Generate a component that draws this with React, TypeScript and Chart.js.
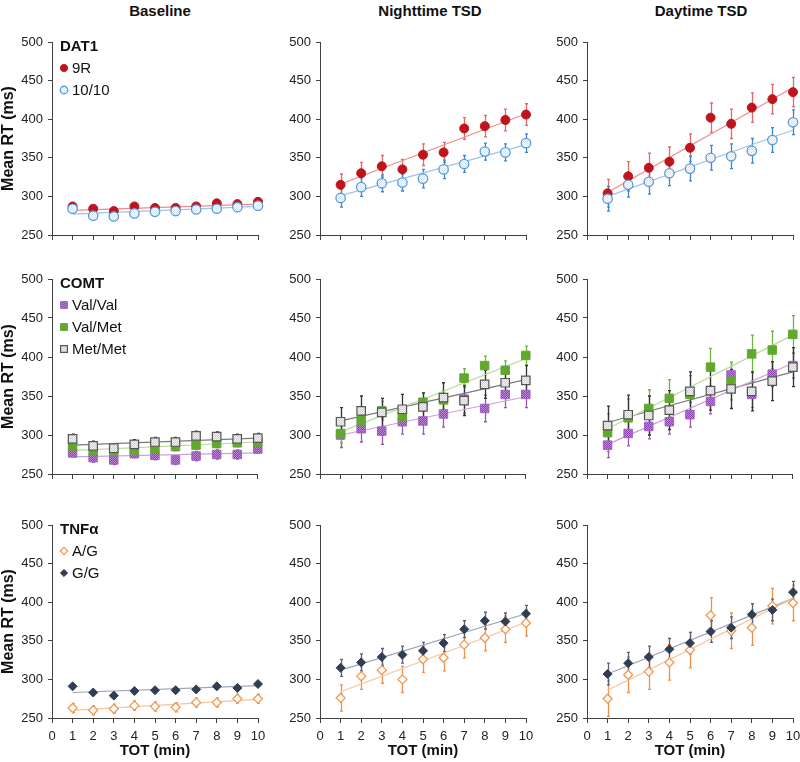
import React, { useEffect, useRef } from 'react';
import { Chart, registerables } from 'chart.js';
import { drawPoint } from 'chart.js/helpers';

Chart.register(...registerables);

// ---------------- data ----------------
const TOT = [1, 2, 3, 4, 5, 6, 7, 8, 9, 10];
const TREND_X = [1, 10];
const CONDITIONS = ['Baseline', 'Nighttime TSD', 'Daytime TSD'];
const Y_TITLE = 'Mean RT (ms)';
const X_TITLE = 'TOT (min)';
const Y_MIN = 250;
const Y_MAX = 500;
const Y_STEP = 50;
const X_MIN = 0;
const X_MAX = 10;
const X_STEP = 1;

const DAT1_LABELS = ['9R', '10/10'];
const COMT_LABELS = ['Val/Val', 'Val/Met', 'Met/Met'];
const TNF_LABELS = ['A/G', 'G/G'];
const GENES = ['DAT1', 'COMT', 'TNFα'];

// DAT1
const dat1_9R_base = [287, 284, 281, 287, 285, 285, 287, 291, 290, 293];
const dat1_9R_base_err = [3, 3, 3, 3, 3, 3, 3, 3, 3, 3];
const dat1_9R_base_trend = [282, 290];
const dat1_1010_base = [284, 275, 274, 278, 280, 281, 283, 284, 286, 288];
const dat1_1010_base_err = [3, 3, 3, 3, 3, 3, 3, 3, 3, 3];
const dat1_1010_base_trend = [277, 287];

const dat1_9R_night = [315, 330, 339, 335, 354, 357, 388, 391, 399, 406];
const dat1_9R_night_err = [14, 14, 14, 13, 14, 13, 14, 14, 14, 14];
const dat1_9R_night_trend = [316, 407];
const dat1_1010_night = [298, 312, 317, 318, 323, 335, 342, 358, 357, 369];
const dat1_1010_night_err = [12, 12, 11, 11, 12, 12, 11, 11, 11, 12];
const dat1_1010_night_trend = [301, 367];

const dat1_9R_day = [304, 326, 337, 345, 363, 402, 394, 415, 426, 435];
const dat1_9R_day_err = [18, 19, 19, 19, 18, 19, 19, 19, 19, 19];
const dat1_9R_day_trend = [305, 441];
const dat1_1010_day = [297, 315, 319, 330, 336, 350, 352, 359, 373, 396];
const dat1_1010_day_err = [16, 16, 16, 16, 16, 16, 16, 16, 16, 16];
const dat1_1010_day_trend = [300, 386];

// COMT
const comt_VV_base = [277, 271, 268, 276, 274, 268, 273, 275, 275, 282];
const comt_VV_base_err = [5, 6, 6, 5, 6, 6, 6, 6, 6, 5];
const comt_VV_base_trend = [272, 277];
const comt_VM_base = [286, 280, 279, 281, 283, 285, 287, 289, 290, 291];
const comt_VM_base_err = [5, 5, 5, 5, 5, 5, 5, 5, 5, 5];
const comt_VM_base_trend = [280, 291];
const comt_MM_base = [295, 286, 283, 288, 291, 291, 299, 298, 295, 296];
const comt_MM_base_err = [6, 6, 6, 6, 6, 6, 6, 6, 6, 6];
const comt_MM_base_trend = [287, 296];

const comt_VV_night = [300, 308, 305, 317, 318, 327, 346, 334, 352, 352];
const comt_VV_night_err = [16, 17, 17, 16, 17, 17, 18, 17, 17, 17];
const comt_VV_night_trend = [300, 349];
const comt_VM_night = [302, 319, 331, 324, 342, 345, 373, 389, 383, 402];
const comt_VM_night_err = [12, 12, 12, 12, 12, 12, 12, 12, 12, 12];
const comt_VM_night_trend = [304, 398];
const comt_MM_night = [317, 331, 329, 333, 336, 348, 344, 365, 367, 370];
const comt_MM_night_err = [18, 19, 18, 19, 18, 19, 19, 18, 18, 19];
const comt_MM_night_trend = [318, 371];

const comt_VV_day = [287, 302, 311, 317, 326, 343, 377, 352, 378, 389];
const comt_VV_day_err = [16, 16, 16, 16, 16, 16, 16, 17, 16, 16];
const comt_VV_day_trend = [288, 392];
const comt_VM_day = [303, 322, 334, 347, 352, 387, 369, 404, 409, 429];
const comt_VM_day_err = [24, 24, 24, 24, 24, 24, 24, 24, 24, 24];
const comt_VM_day_trend = [308, 428];
const comt_MM_day = [312, 326, 325, 332, 356, 357, 359, 356, 369, 387];
const comt_MM_day_err = [25, 25, 25, 25, 25, 25, 25, 25, 25, 25];
const comt_MM_day_trend = [316, 381];

// TNFα
const tnf_AG_base = [263, 260, 262, 266, 265, 264, 270, 270, 275, 275];
const tnf_AG_base_err = [6, 6, 6, 6, 6, 6, 6, 6, 6, 6];
const tnf_AG_base_trend = [260, 274];
const tnf_GG_base = [291, 283, 279, 285, 286, 286, 287, 291, 289, 294];
const tnf_GG_base_err = [3, 3, 3, 3, 3, 3, 3, 3, 3, 3];
const tnf_GG_base_trend = [283, 292];

const tnf_AG_night = [276, 304, 312, 300, 326, 328, 345, 354, 365, 373];
const tnf_AG_night_err = [17, 17, 17, 17, 17, 17, 17, 17, 17, 17];
const tnf_AG_night_trend = [284, 374];
const tnf_GG_night = [315, 322, 329, 332, 337, 347, 365, 376, 375, 385];
const tnf_GG_night_err = [11, 11, 11, 11, 11, 11, 11, 11, 11, 11];
const tnf_GG_night_trend = [312, 385];

const tnf_AG_day = [275, 306, 310, 322, 338, 383, 363, 367, 395, 399];
const tnf_AG_day_err = [23, 23, 23, 23, 23, 23, 23, 23, 23, 23];
const tnf_AG_day_trend = [286, 405];
const tnf_GG_day = [307, 321, 329, 339, 347, 362, 367, 384, 390, 413];
const tnf_GG_day_err = [14, 14, 14, 14, 14, 14, 14, 14, 14, 14];
const tnf_GG_day_trend = [307, 405];

// ---------------- styles ----------------
type Sty = {
  point: string;
  radius: number;
  fill: string;
  fill2?: string;
  border: string;
  bw: number;
  trend: string;
  err: string;
};

const S_9R: Sty = { point: 'circle', radius: 4.5, fill: '#c0141c', border: '#c0141c', bw: 1, trend: '#f08a8a', err: '#e06a6a' };
const S_1010: Sty = { point: 'circle', radius: 4.7, fill: '#d2e3f5', fill2: '#ffffff', border: '#5b9bd5', bw: 1.3, trend: '#9cc4ea', err: '#3d85cf' };
const S_VV: Sty = { point: 'rect', radius: 6, fill: '#8a3fae', fill2: '#c08ad8', border: '#a060c0', bw: 1, trend: '#c9a2dc', err: '#9b59b6' };
const S_VM: Sty = { point: 'rect', radius: 6, fill: '#62a82f', border: '#62a82f', bw: 1, trend: '#b7dc96', err: '#6fb73e' };
const S_MM: Sty = { point: 'rect', radius: 6, fill: '#cfcfcf', fill2: '#f4f4f4', border: '#555555', bw: 1.2, trend: '#7a7a7a', err: '#333333' };
const S_AG: Sty = { point: 'rectRot', radius: 4.5, fill: '#ffffff', border: '#f39a52', bw: 1.3, trend: '#f7c49a', err: '#f0904a' };
const S_GG: Sty = { point: 'rectRot', radius: 4.5, fill: '#323d52', border: '#323d52', bw: 1, trend: '#9aa4b6', err: '#59627a' };

type Series = { label: string; values: number[]; errors: number[]; trend: number[]; sty: Sty };
type Panel = { row: number; col: number; gene?: string; series: Series[] };

const PANELS: Panel[] = [
  { row: 0, col: 0, gene: GENES[0], series: [
    { label: DAT1_LABELS[0], values: dat1_9R_base, errors: dat1_9R_base_err, trend: dat1_9R_base_trend, sty: S_9R },
    { label: DAT1_LABELS[1], values: dat1_1010_base, errors: dat1_1010_base_err, trend: dat1_1010_base_trend, sty: S_1010 },
  ] },
  { row: 0, col: 1, series: [
    { label: DAT1_LABELS[0], values: dat1_9R_night, errors: dat1_9R_night_err, trend: dat1_9R_night_trend, sty: S_9R },
    { label: DAT1_LABELS[1], values: dat1_1010_night, errors: dat1_1010_night_err, trend: dat1_1010_night_trend, sty: S_1010 },
  ] },
  { row: 0, col: 2, series: [
    { label: DAT1_LABELS[0], values: dat1_9R_day, errors: dat1_9R_day_err, trend: dat1_9R_day_trend, sty: S_9R },
    { label: DAT1_LABELS[1], values: dat1_1010_day, errors: dat1_1010_day_err, trend: dat1_1010_day_trend, sty: S_1010 },
  ] },
  { row: 1, col: 0, gene: GENES[1], series: [
    { label: COMT_LABELS[0], values: comt_VV_base, errors: comt_VV_base_err, trend: comt_VV_base_trend, sty: S_VV },
    { label: COMT_LABELS[1], values: comt_VM_base, errors: comt_VM_base_err, trend: comt_VM_base_trend, sty: S_VM },
    { label: COMT_LABELS[2], values: comt_MM_base, errors: comt_MM_base_err, trend: comt_MM_base_trend, sty: S_MM },
  ] },
  { row: 1, col: 1, series: [
    { label: COMT_LABELS[0], values: comt_VV_night, errors: comt_VV_night_err, trend: comt_VV_night_trend, sty: S_VV },
    { label: COMT_LABELS[1], values: comt_VM_night, errors: comt_VM_night_err, trend: comt_VM_night_trend, sty: S_VM },
    { label: COMT_LABELS[2], values: comt_MM_night, errors: comt_MM_night_err, trend: comt_MM_night_trend, sty: S_MM },
  ] },
  { row: 1, col: 2, series: [
    { label: COMT_LABELS[0], values: comt_VV_day, errors: comt_VV_day_err, trend: comt_VV_day_trend, sty: S_VV },
    { label: COMT_LABELS[1], values: comt_VM_day, errors: comt_VM_day_err, trend: comt_VM_day_trend, sty: S_VM },
    { label: COMT_LABELS[2], values: comt_MM_day, errors: comt_MM_day_err, trend: comt_MM_day_trend, sty: S_MM },
  ] },
  { row: 2, col: 0, gene: GENES[2], series: [
    { label: TNF_LABELS[0], values: tnf_AG_base, errors: tnf_AG_base_err, trend: tnf_AG_base_trend, sty: S_AG },
    { label: TNF_LABELS[1], values: tnf_GG_base, errors: tnf_GG_base_err, trend: tnf_GG_base_trend, sty: S_GG },
  ] },
  { row: 2, col: 1, series: [
    { label: TNF_LABELS[0], values: tnf_AG_night, errors: tnf_AG_night_err, trend: tnf_AG_night_trend, sty: S_AG },
    { label: TNF_LABELS[1], values: tnf_GG_night, errors: tnf_GG_night_err, trend: tnf_GG_night_trend, sty: S_GG },
  ] },
  { row: 2, col: 2, series: [
    { label: TNF_LABELS[0], values: tnf_AG_day, errors: tnf_AG_day_err, trend: tnf_AG_day_trend, sty: S_AG },
    { label: TNF_LABELS[1], values: tnf_GG_day, errors: tnf_GG_day_err, trend: tnf_GG_day_trend, sty: S_GG },
  ] },
];

// ---------------- layout ----------------
const PAGE_W = 800;
const PAGE_H = 762;
const COL_LEFT = [52, 320, 587];
const COL_RIGHT = [258, 526, 793];
const ROW_TOP = [42, 279, 525];
const ROW_BOTTOM = [235, 474, 718];
const Y_AXIS_W = 52;
const PAD_TOP = 12;
const PAD_RIGHT = 7;
const TITLE_CX = [160, 430, 701];
const FONT = '"Liberation Sans", Arial, Helvetica, sans-serif';

Chart.defaults.font.family = FONT;

function makeFill(sty: Sty): any {
  if (!sty.fill2) return sty.fill;
  const cv = document.createElement('canvas');
  cv.width = 2;
  cv.height = 2;
  const g = cv.getContext('2d')!;
  g.fillStyle = sty.fill2;
  g.fillRect(0, 0, 2, 2);
  g.fillStyle = sty.fill;
  g.fillRect(0, 0, 1, 1);
  g.fillRect(1, 1, 1, 1);
  return g.createPattern(cv, 'repeat');
}

const errorBarPlugin = {
  id: 'errorBars',
  beforeDatasetsDraw(chart: any) {
    const { ctx, scales } = chart;
    const xs = scales.x;
    const ys = scales.y;
    chart.data.datasets.forEach((ds: any) => {
      if (!ds.errorBars) return;
      ctx.save();
      ctx.strokeStyle = ds.errorColor;
      ctx.lineWidth = 1.3;
      ds.data.forEach((p: any, j: number) => {
        const e = ds.errorBars[j];
        const x = Math.round(xs.getPixelForValue(p.x)) + 0.5;
        const y1 = ys.getPixelForValue(p.y - e);
        const y2 = ys.getPixelForValue(p.y + e);
        ctx.beginPath();
        ctx.moveTo(x, y1);
        ctx.lineTo(x, y2);
        ctx.moveTo(x - 1.5, y1);
        ctx.lineTo(x + 1.5, y1);
        ctx.moveTo(x - 1.5, y2);
        ctx.lineTo(x + 1.5, y2);
        ctx.stroke();
      });
      ctx.restore();
    });
  },
};

const inPlotLegendPlugin = {
  id: 'inPlotLegend',
  afterDraw(chart: any, _args: any, opts: any) {
    if (!opts || !opts.title) return;
    const { ctx, chartArea } = chart;
    ctx.save();
    ctx.textBaseline = 'middle';
    ctx.textAlign = 'left';
    ctx.fillStyle = '#111';
    ctx.font = `bold 15px ${FONT}`;
    ctx.fillText(opts.title, chartArea.left + 8, chartArea.top + 5);
    opts.items.forEach((it: any, k: number) => {
      const y = chartArea.top + 26 + k * 22;
      ctx.fillStyle = it.fill;
      ctx.strokeStyle = it.border;
      ctx.lineWidth = it.bw;
      drawPoint(ctx, { pointStyle: it.point, radius: it.radius * 0.8, borderWidth: it.bw, rotation: 0 } as any, chartArea.left + 12, y);
      ctx.fillStyle = '#111';
      ctx.font = `15px ${FONT}`;
      ctx.fillText(it.label, chartArea.left + 20, y + 1);
    });
    ctx.restore();
  },
};

function zeroPadding(s: any) {
  s.paddingLeft = 0;
  s.paddingRight = 0;
  s.paddingTop = 0;
  s.paddingBottom = 0;
}

function buildConfig(panel: Panel): any {
  const { row, col } = panel;
  const xAxisH = row === 2 ? PAGE_H - ROW_BOTTOM[row] : 8;
  const fills = panel.series.map((s) => makeFill(s.sty));
  const datasets: any[] = [];
  panel.series.forEach((s) => {
    datasets.push({
      label: s.label + ' trend',
      data: TREND_X.map((x, k) => ({ x, y: s.trend[k] })),
      showLine: true,
      borderColor: s.sty.trend,
      borderWidth: 1.2,
      pointRadius: 0,
      order: 50,
      clip: false,
    });
  });
  panel.series.forEach((s, k) => {
    datasets.push({
      label: s.label,
      data: TOT.map((x, j) => ({ x, y: s.values[j] })),
      errorBars: s.errors,
      errorColor: s.sty.err,
      showLine: false,
      pointStyle: s.sty.point,
      pointRadius: s.sty.radius,
      pointBackgroundColor: fills[k],
      pointBorderColor: s.sty.border,
      pointBorderWidth: s.sty.bw,
      order: 10 - k,
      clip: false,
    });
  });
  return {
    type: 'scatter',
    data: { datasets },
    options: {
      responsive: false,
      animation: false,
      devicePixelRatio: 1,
      layout: { padding: { top: PAD_TOP, right: PAD_RIGHT, left: 0, bottom: 0 } },
      plugins: {
        legend: { display: false },
        tooltip: { enabled: false },
        inPlotLegend: panel.gene
          ? {
              title: panel.gene,
              items: panel.series.map((s, k) => ({
                label: s.label,
                point: s.sty.point,
                radius: s.sty.radius,
                fill: fills[k],
                border: s.sty.border,
                bw: s.sty.bw,
              })),
            }
          : {},
      },
      scales: {
        x: {
          type: 'linear',
          min: X_MIN,
          max: X_MAX,
          ticks: {
            stepSize: X_STEP,
            display: row === 2,
            color: '#222',
            font: { size: 13 },
            padding: 6,
            maxRotation: 0,
            autoSkip: false,
          },
          grid: { drawOnChartArea: false, drawTicks: true, tickLength: 5, color: '#404040', lineWidth: 1 },
          border: { display: true, color: '#404040', width: 1 },
          title: {
            display: row === 2,
            text: X_TITLE,
            color: '#111',
            font: { size: 15, weight: 'bold' },
            padding: { top: 0, bottom: 2 },
          },
          afterFit: (s: any) => {
            s.height = xAxisH;
            zeroPadding(s);
          },
        },
        y: {
          type: 'linear',
          min: Y_MIN,
          max: Y_MAX,
          ticks: { stepSize: Y_STEP, color: '#222', font: { size: 13 }, padding: 5 },
          grid: { drawOnChartArea: false, drawTicks: true, tickLength: 4, color: '#404040', lineWidth: 1 },
          border: { display: true, color: '#404040', width: 1 },
          title: {
            display: col === 0,
            text: Y_TITLE,
            color: '#111',
            font: { size: 16, weight: 'bold' },
            padding: { top: -1, bottom: 0 },
          },
          afterFit: (s: any) => {
            s.width = Y_AXIS_W;
            zeroPadding(s);
          },
        },
      },
    },
    plugins: [errorBarPlugin, inPlotLegendPlugin],
  };
}

function panelBox(p: Panel) {
  const left = COL_LEFT[p.col] - Y_AXIS_W;
  const top = ROW_TOP[p.row] - PAD_TOP;
  const width = COL_RIGHT[p.col] - COL_LEFT[p.col] + Y_AXIS_W + PAD_RIGHT;
  const xAxisH = p.row === 2 ? PAGE_H - ROW_BOTTOM[p.row] : 8;
  const height = ROW_BOTTOM[p.row] - ROW_TOP[p.row] + PAD_TOP + xAxisH;
  return { left, top, width, height };
}

export default function App() {
  const refs = useRef<(HTMLCanvasElement | null)[]>([]);

  useEffect(() => {
    const charts = PANELS.map((p, i) => new Chart(refs.current[i] as HTMLCanvasElement, buildConfig(p)));
    return () => charts.forEach((c) => c.destroy());
  }, []);

  return (
    <div
      style={{
        position: 'absolute',
        left: 0,
        top: 0,
        width: PAGE_W,
        height: PAGE_H,
        background: '#ffffff',
        overflow: 'hidden',
        fontFamily: FONT,
      }}
    >
      {CONDITIONS.map((c, i) => (
        <div
          key={c}
          style={{
            position: 'absolute',
            left: TITLE_CX[i] - 80,
            width: 160,
            top: 2,
            textAlign: 'center',
            fontWeight: 'bold',
            fontSize: 15,
            color: '#111',
          }}
        >
          {c}
        </div>
      ))}
      {PANELS.map((p, i) => {
        const b = panelBox(p);
        return (
          <canvas
            key={i}
            ref={(el) => {
              refs.current[i] = el;
            }}
            width={b.width}
            height={b.height}
            style={{ position: 'absolute', left: b.left, top: b.top, width: b.width, height: b.height }}
          />
        );
      })}
    </div>
  );
}
